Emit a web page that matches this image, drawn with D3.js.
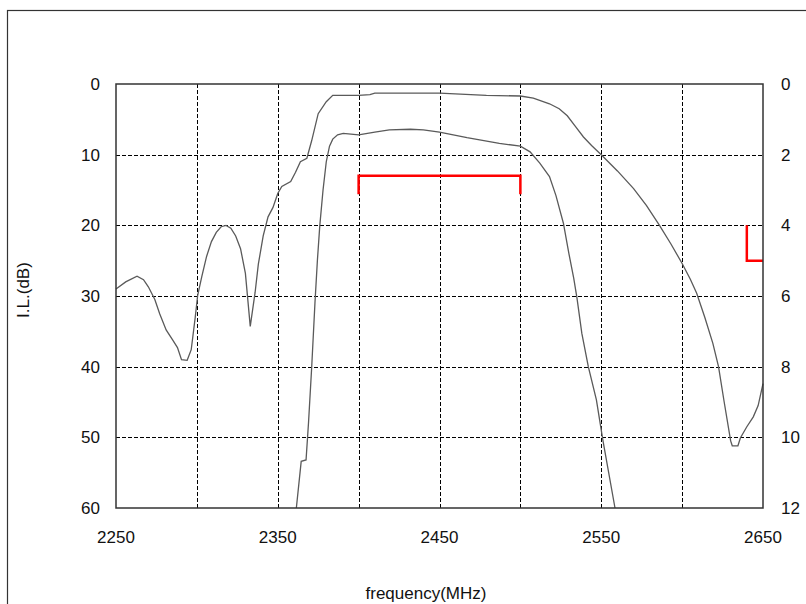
<!DOCTYPE html>
<html lang="en">
<head>
<meta charset="UTF-8">
<title>I.L. vs frequency</title>
<style>
  body { margin: 0; padding: 0; background: #fff; }
  svg { display: block; }
  text { font-family: Arial, 'Liberation Sans', sans-serif; fill: #111; }
</style>
</head>
<body>
<div id="chart"></div>
<script src="https://d3js.org/d3.v7.min.js"></script>
<script>
// wideband curve (left axis units, dB)
const freqA = [2250, 2256, 2263, 2267, 2270, 2274, 2277, 2281, 2285, 2288, 2290.5, 2294, 2296.5, 2299,
  2300.5, 2303, 2306, 2309, 2312, 2315, 2318, 2321, 2324, 2327, 2330, 2333, 2336, 2338, 2341, 2344, 2347,
  2350, 2352.5, 2358, 2361, 2364, 2368, 2371, 2375, 2380, 2384, 2400, 2407, 2410, 2450, 2479, 2500,
  2508, 2518, 2524, 2529, 2534, 2539, 2544, 2550, 2560, 2570, 2578, 2586, 2593, 2600, 2605, 2609,
  2614, 2619, 2622.5, 2626, 2630, 2631, 2634.5, 2636, 2640, 2644, 2647, 2650];
const lossA = [29.0, 28.0, 27.2, 27.7, 28.7, 30.5, 32.5, 34.8, 36.2, 37.3, 39.0, 39.1, 37.6, 33.0,
  29.9, 27.3, 24.4, 22.3, 21.0, 20.2, 20.0, 20.4, 21.5, 23.3, 26.8, 34.3, 29.5, 25.5, 21.5, 18.8, 17.5,
  15.5, 14.5, 13.8, 12.5, 11.0, 10.5, 8.0, 4.2, 2.5, 1.6, 1.6, 1.5, 1.3, 1.3, 1.6, 1.7,
  2.0, 2.8, 3.5, 4.5, 6.0, 7.5, 8.7, 10.0, 12.3, 14.8, 17.2, 20.0, 22.6, 25.4, 27.6, 29.6,
  33.0, 36.7, 40.0, 45.0, 50.5, 51.2, 51.2, 50.1, 48.5, 47.1, 45.5, 42.4];

// narrowband curve
const freqB = [2361.5, 2364.5, 2367.5, 2369, 2371, 2373, 2374.5, 2376, 2378, 2380, 2382, 2384, 2387,
  2390.5, 2400, 2410, 2419, 2432, 2440, 2450, 2467, 2487, 2500, 2506, 2512, 2518, 2522, 2526.6,
  2530, 2533, 2535, 2538, 2542, 2547, 2551, 2558.5];
const lossB = [60, 53.4, 53.2, 48, 40, 31, 25, 20, 15, 11, 8.8, 7.8, 7.2,
  7.0, 7.2, 6.8, 6.5, 6.4, 6.5, 6.8, 7.6, 8.4, 8.8, 9.6, 11.2, 13.1, 15.8, 19.7,
  24, 27.5, 30.3, 35.3, 40, 44.7, 50.4, 60];

// red spec marks
const passbandSpec = [[2400, 15.6], [2400, 13], [2500, 13], [2500, 15.6]];
const rejectSpec = [[2640, 20], [2640, 25], [2650, 25]];

const xGrid = d3.range(2250, 2651, 50);
const xLabels = [2250, 2350, 2450, 2550, 2650];
const leftTicks = [0, 10, 20, 30, 40, 50, 60];
const rightTicks = [0, 2, 4, 6, 8, 10, 12];

const W = 806, H = 604;
const plot = { left: 116, right: 763, top: 84, bottom: 508 };

const svg = d3.select("#chart").append("svg")
    .attr("width", W)
    .attr("height", H);

// outer frame (runs off the right and bottom)
svg.append("rect")
    .attr("x", 7.5).attr("y", 10.5)
    .attr("width", 830).attr("height", 640)
    .attr("fill", "none")
    .attr("stroke", "#333")
    .attr("stroke-width", 1.2);

const x = d3.scaleLinear().domain([2250, 2650]).range([plot.left, plot.right]);
const y = d3.scaleLinear().domain([0, 60]).range([plot.top, plot.bottom]);
const yR = d3.scaleLinear().domain([0, 12]).range([plot.top, plot.bottom]);

// grid
const grid = svg.append("g")
    .attr("stroke", "#000")
    .attr("stroke-width", 1)
    .attr("stroke-dasharray", "4,2");

grid.selectAll("line.v")
    .data(xGrid.slice(1, -1))
    .join("line")
    .attr("class", "v")
    .attr("x1", d => Math.round(x(d)) + 0.5).attr("x2", d => Math.round(x(d)) + 0.5)
    .attr("y1", plot.top).attr("y2", plot.bottom);

grid.selectAll("line.h")
    .data(leftTicks.slice(1, -1))
    .join("line")
    .attr("class", "h")
    .attr("y1", d => Math.round(y(d)) + 0.5).attr("y2", d => Math.round(y(d)) + 0.5)
    .attr("x1", plot.left).attr("x2", plot.right);

// curves
const line = d3.line()
    .x(d => x(d[0]))
    .y(d => y(d[1]));

svg.append("path")
    .datum(d3.zip(freqA, lossA))
    .attr("d", line)
    .attr("fill", "none")
    .attr("stroke", "#5a5a5a")
    .attr("stroke-width", 1.3);

svg.append("path")
    .datum(d3.zip(freqB, lossB))
    .attr("d", line)
    .attr("fill", "none")
    .attr("stroke", "#5a5a5a")
    .attr("stroke-width", 1.3);

// spec marks
[passbandSpec, rejectSpec].forEach(s => {
    svg.append("path")
        .datum(s)
        .attr("d", line)
        .attr("fill", "none")
        .attr("stroke", "#f00")
        .attr("stroke-width", 2.5);
});

// plot frame
svg.append("rect")
    .attr("x", plot.left).attr("y", plot.top)
    .attr("width", plot.right - plot.left)
    .attr("height", plot.bottom - plot.top)
    .attr("fill", "none")
    .attr("stroke", "#333")
    .attr("stroke-width", 1.5);

// tick labels
svg.append("g").selectAll("text")
    .data(leftTicks)
    .join("text")
    .attr("x", plot.left - 16)
    .attr("y", d => y(d))
    .attr("dy", "0.36em")
    .attr("text-anchor", "end")
    .attr("font-size", 17)
    .text(d => d);

svg.append("g").selectAll("text")
    .data(rightTicks)
    .join("text")
    .attr("x", plot.right + 18)
    .attr("y", d => yR(d))
    .attr("dy", "0.36em")
    .attr("text-anchor", "start")
    .attr("font-size", 17)
    .text(d => d);

svg.append("g").selectAll("text")
    .data(xLabels)
    .join("text")
    .attr("x", d => x(d))
    .attr("y", 543)
    .attr("text-anchor", "middle")
    .attr("font-size", 17)
    .text(d => d);

// axis titles
svg.append("text")
    .attr("transform", "translate(29,290) rotate(-90)")
    .attr("text-anchor", "middle")
    .attr("font-size", 17)
    .text("I.L.(dB)");

svg.append("text")
    .attr("x", 426)
    .attr("y", 599)
    .attr("text-anchor", "middle")
    .attr("font-size", 17)
    .text("frequency(MHz)");
</script>
</body>
</html>
